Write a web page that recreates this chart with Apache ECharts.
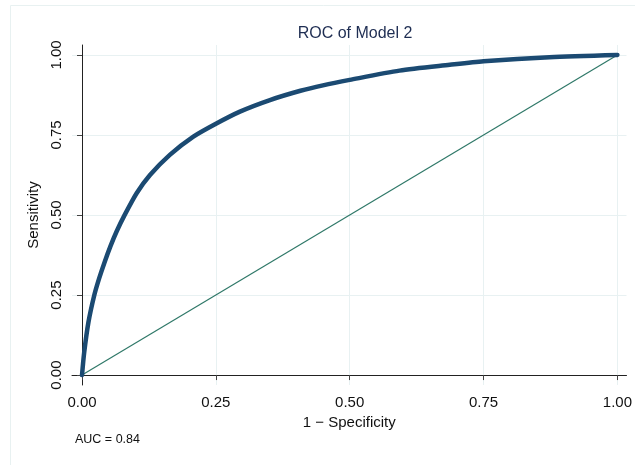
<!DOCTYPE html>
<html>
<head>
<meta charset="UTF-8">
<title>ROC of Model 2</title>
<script src="https://cdn.jsdelivr.net/npm/echarts@6/dist/echarts.min.js"></script>
<style>
    html, body { margin: 0; padding: 0; background: #fff; }
    #main { width: 635px; height: 465px; }
</style>
</head>
<body>
<div id="main"></div>
<script>
    // 1 - specificity / sensitivity
    var fpr  = [0, 0.004, 0.012, 0.023, 0.032, 0.042, 0.053, 0.065, 0.079, 0.102, 0.127, 0.164, 0.208, 0.251, 0.295, 0.351, 0.408, 0.450, 0.500, 0.593, 0.687, 0.750, 0.873, 1];
    var sens = [0, 0.070, 0.165, 0.250, 0.302, 0.352, 0.402, 0.450, 0.498, 0.568, 0.625, 0.688, 0.745, 0.786, 0.823, 0.859, 0.888, 0.905, 0.922, 0.951, 0.969, 0.980, 0.993, 1];
    var refLine = [[0, 0], [1, 1]];
    var tickVals = [0, 0.25, 0.5, 0.75, 1];
    var aucText = 'AUC = 0.84';

    var font = 'Liberation Sans, Arial, Helvetica, sans-serif';
    var rocData = fpr.map(function (v, i) { return [v, sens[i]]; });

    var chart = echarts.init(document.getElementById('main'));
    chart.setOption({
        animation: false,
        title: {
            text: 'ROC of Model 2',
            left: 350, top: 21, textAlign: 'center',
            textStyle: { fontFamily: font, fontSize: 16, fontWeight: 'normal', color: '#1e2d52' }
        },
        graphic: [
            { type: 'rect', shape: { x: 10.5, y: 5.5, width: 640, height: 480 }, style: { fill: 'none', stroke: '#e8f1f1', lineWidth: 1 }, z: -10 },
            { type: 'text', left: 75, top: 433, style: { text: aucText, font: '12.5px ' + font, fill: '#111' } }
        ],
        grid: { left: 72, right: 8, top: 45, bottom: 80 },
        xAxis: {
            type: 'value', min: -0.0187, max: 1.017,
            name: '1 \u2212 Specificity', nameLocation: 'middle', nameGap: 26,
            nameTextStyle: { fontFamily: font, fontSize: 15, color: '#111' },
            axisLine: { show: true, lineStyle: { color: '#222', width: 1 } },
            axisTick: { show: true, length: 5, customValues: tickVals, lineStyle: { color: '#444' } },
            axisLabel: { customValues: tickVals, margin: 10, fontFamily: font, fontSize: 15, color: '#111',
                formatter: function (v) { return v.toFixed(2); } },
            splitLine: { show: true, lineStyle: { color: '#e8f1f2', width: 1 } }
        },
        yAxis: {
            type: 'value', min: -0.031, max: 1.031,
            name: 'Sensitivity', nameLocation: 'middle', nameGap: 29,
            nameTextStyle: { fontFamily: font, fontSize: 15, color: '#111' },
            axisLine: { show: true, lineStyle: { color: '#222', width: 1 } },
            axisTick: { show: true, length: 5, customValues: tickVals, lineStyle: { color: '#444' } },
            axisLabel: { customValues: tickVals, rotate: 90, margin: 8, fontFamily: font, fontSize: 15, color: '#111',
                formatter: function (v) { return v.toFixed(2); } },
            splitLine: { show: true, lineStyle: { color: '#e8f1f2', width: 1 } }
        },
        series: [
            {
                type: 'line', data: refLine, showSymbol: false, symbol: 'none',
                lineStyle: { color: '#2f7868', width: 1.2 }
            },
            {
                type: 'line', data: rocData, showSymbol: false, symbol: 'none',
                smooth: 0.25,
                lineStyle: { color: '#1b4a72', width: 4.5, join: 'round', cap: 'round' }
            }
        ]
    });
</script>
</body>
</html>
